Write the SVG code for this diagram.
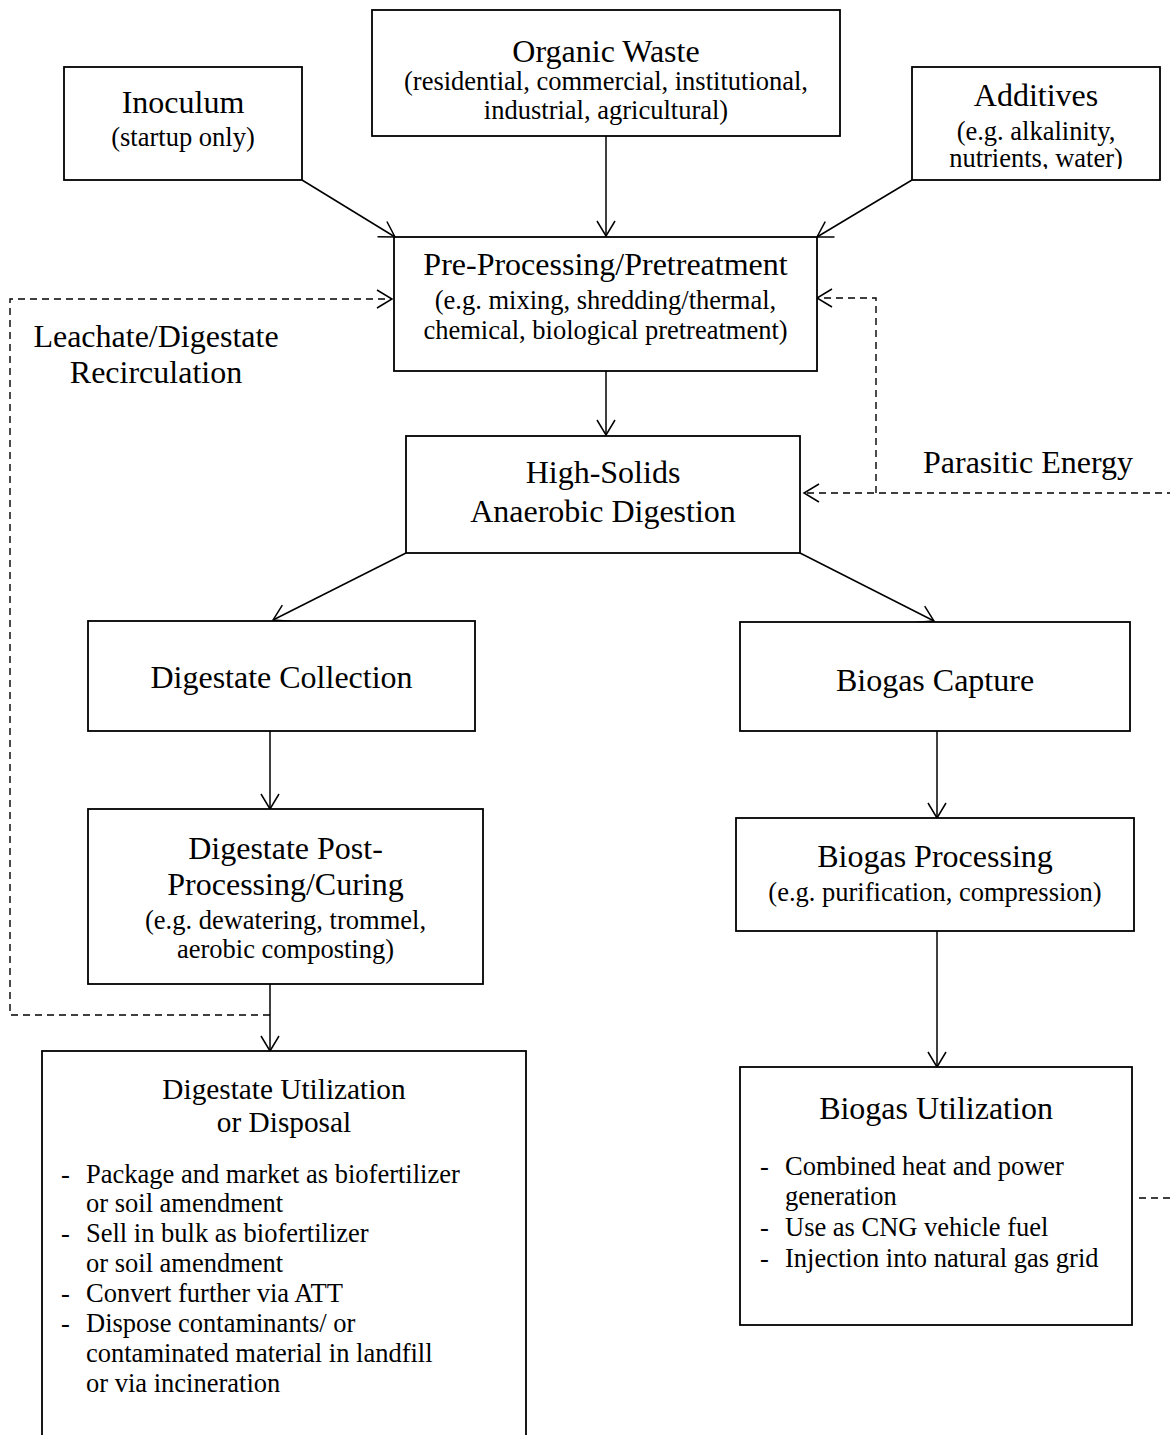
<svg xmlns="http://www.w3.org/2000/svg" width="1170" height="1435" viewBox="0 0 1170 1435">
  <style>
    text { font-family: "Liberation Serif", "Times New Roman", serif; fill: #000; }
    .t { font-size: 32px; text-anchor: middle; }
    .t2 { font-size: 29.3px; text-anchor: middle; }
    .s { font-size: 26.5px; text-anchor: middle; }
    .li { font-size: 26.5px; }
    .box { fill: #fff; stroke: #000; stroke-width: 1.8; }
    .line { fill: none; stroke: #000; stroke-width: 1.5; }
    .dash { fill: none; stroke: #000; stroke-width: 1.4; stroke-dasharray: 7 5; }
  </style>
  <defs>
    <marker id="arrow" markerUnits="userSpaceOnUse" markerWidth="40" markerHeight="40" refX="0" refY="0" orient="auto" overflow="visible">
      <path d="M-15,-9 L0,0 L-15,9" fill="none" stroke="#000" stroke-width="1.5"/>
    </marker>
    <clipPath id="addClip">
      <rect x="900" y="60" width="270" height="109"/>
    </clipPath>
  </defs>

  <!-- connectors -->
  <g id="connectors">
    <line class="line" x1="302" y1="180" x2="395" y2="237" marker-end="url(#arrow)"/>
    <line class="line" x1="606" y1="136" x2="606" y2="236" marker-end="url(#arrow)"/>
    <line class="line" x1="912" y1="180" x2="817" y2="237" marker-end="url(#arrow)"/>
    <line class="line" x1="606" y1="371" x2="606" y2="435" marker-end="url(#arrow)"/>
    <line class="line" x1="406" y1="553" x2="273" y2="620" marker-end="url(#arrow)"/>
    <line class="line" x1="800" y1="553" x2="934" y2="621" marker-end="url(#arrow)"/>
    <line class="line" x1="270" y1="731" x2="270" y2="809" marker-end="url(#arrow)"/>
    <line class="line" x1="270" y1="984" x2="270" y2="1051" marker-end="url(#arrow)"/>
    <line class="line" x1="937" y1="731" x2="937" y2="818" marker-end="url(#arrow)"/>
    <line class="line" x1="937" y1="931" x2="937" y2="1067" marker-end="url(#arrow)"/>
    <!-- recirculation loop back to pre-processing -->
    <path class="dash" d="M270,1015 H10 V299 H392" marker-end="url(#arrow)"/>
    <!-- parasitic energy return from biogas utilization -->
    <path class="dash" d="M1139,1198 H1200 V493 H804" marker-end="url(#arrow)"/>
    <path class="dash" d="M876,493 V298 H817" marker-end="url(#arrow)"/>
    <text x="156" y="347" class="t">Leachate/Digestate</text>
    <text x="156" y="383" class="t">Recirculation</text>
    <text x="923" y="473" style="font-size:32px">Parasitic Energy</text>
  </g>

  <g id="inoculum">
    <rect class="box" x="64" y="67" width="238" height="113"/>
    <text x="183" y="112.5" class="t">Inoculum</text>
    <text x="183" y="145.5" class="s">(startup only)</text>
  </g>

  <g id="organic-waste">
    <rect class="box" x="372" y="10" width="468" height="126"/>
    <text x="606" y="61.5" class="t">Organic Waste</text>
    <text x="606" y="89.5" class="s">(residential, commercial, institutional,</text>
    <text x="606" y="119" class="s">industrial, agricultural)</text>
  </g>

  <g id="additives">
    <rect class="box" x="912" y="67" width="248" height="113"/>
    <text x="1036" y="106" class="t">Additives</text>
    <text x="1036" y="140" class="s">(e.g. alkalinity,</text>
    <text x="1036" y="167.3" class="s" clip-path="url(#addClip)">nutrients, water)</text>
  </g>

  <g id="pre-processing">
    <rect class="box" x="394" y="237" width="423" height="134"/>
    <text x="605.5" y="275" class="t">Pre-Processing/Pretreatment</text>
    <text x="605.5" y="309" class="s">(e.g. mixing, shredding/thermal,</text>
    <text x="605.5" y="339" class="s">chemical, biological pretreatment)</text>
  </g>

  <g id="digestion">
    <rect class="box" x="406" y="436" width="394" height="117"/>
    <text x="603" y="483" class="t">High-Solids</text>
    <text x="603" y="522" class="t">Anaerobic Digestion</text>
  </g>

  <g id="digestate-collection">
    <rect class="box" x="88" y="621" width="387" height="110"/>
    <text x="281.5" y="688" class="t">Digestate Collection</text>
  </g>

  <g id="digestate-post-processing">
    <rect class="box" x="88" y="809" width="395" height="175"/>
    <text x="285.5" y="859" class="t">Digestate Post-</text>
    <text x="285.5" y="895" class="t">Processing/Curing</text>
    <text x="285.5" y="928.5" class="s">(e.g. dewatering, trommel,</text>
    <text x="285.5" y="957.5" class="s">aerobic composting)</text>
  </g>

  <g id="digestate-utilization">
    <rect class="box" x="42" y="1051" width="484" height="400"/>
    <text x="284" y="1098.5" class="t2">Digestate Utilization</text>
    <text x="284" y="1131.5" class="t2">or Disposal</text>
    <g class="li">
      <text x="61" y="1183">-</text>
      <text x="86" y="1183">Package and market as biofertilizer</text>
      <text x="86" y="1212">or soil amendment</text>
      <text x="61" y="1242">-</text>
      <text x="86" y="1242">Sell in bulk as biofertilizer</text>
      <text x="86" y="1271.5">or soil amendment</text>
      <text x="61" y="1302">-</text>
      <text x="86" y="1302">Convert further via ATT</text>
      <text x="61" y="1332">-</text>
      <text x="86" y="1332">Dispose contaminants/ or</text>
      <text x="86" y="1362">contaminated material in landfill</text>
      <text x="86" y="1391.5">or via incineration</text>
    </g>
  </g>

  <g id="biogas-capture">
    <rect class="box" x="740" y="622" width="390" height="109"/>
    <text x="935" y="691" class="t">Biogas Capture</text>
  </g>

  <g id="biogas-processing">
    <rect class="box" x="736" y="818" width="398" height="113"/>
    <text x="935" y="866.5" class="t">Biogas Processing</text>
    <text x="935" y="900.5" class="s">(e.g. purification, compression)</text>
  </g>

  <g id="biogas-utilization">
    <rect class="box" x="740" y="1067" width="392" height="258"/>
    <text x="936" y="1118.5" class="t">Biogas Utilization</text>
    <g class="li">
      <text x="760" y="1175">-</text>
      <text x="785" y="1175">Combined heat and power</text>
      <text x="785" y="1205">generation</text>
      <text x="760" y="1236">-</text>
      <text x="785" y="1236">Use as CNG vehicle fuel</text>
      <text x="760" y="1266.5">-</text>
      <text x="785" y="1266.5">Injection into natural gas grid</text>
    </g>
  </g>
</svg>
